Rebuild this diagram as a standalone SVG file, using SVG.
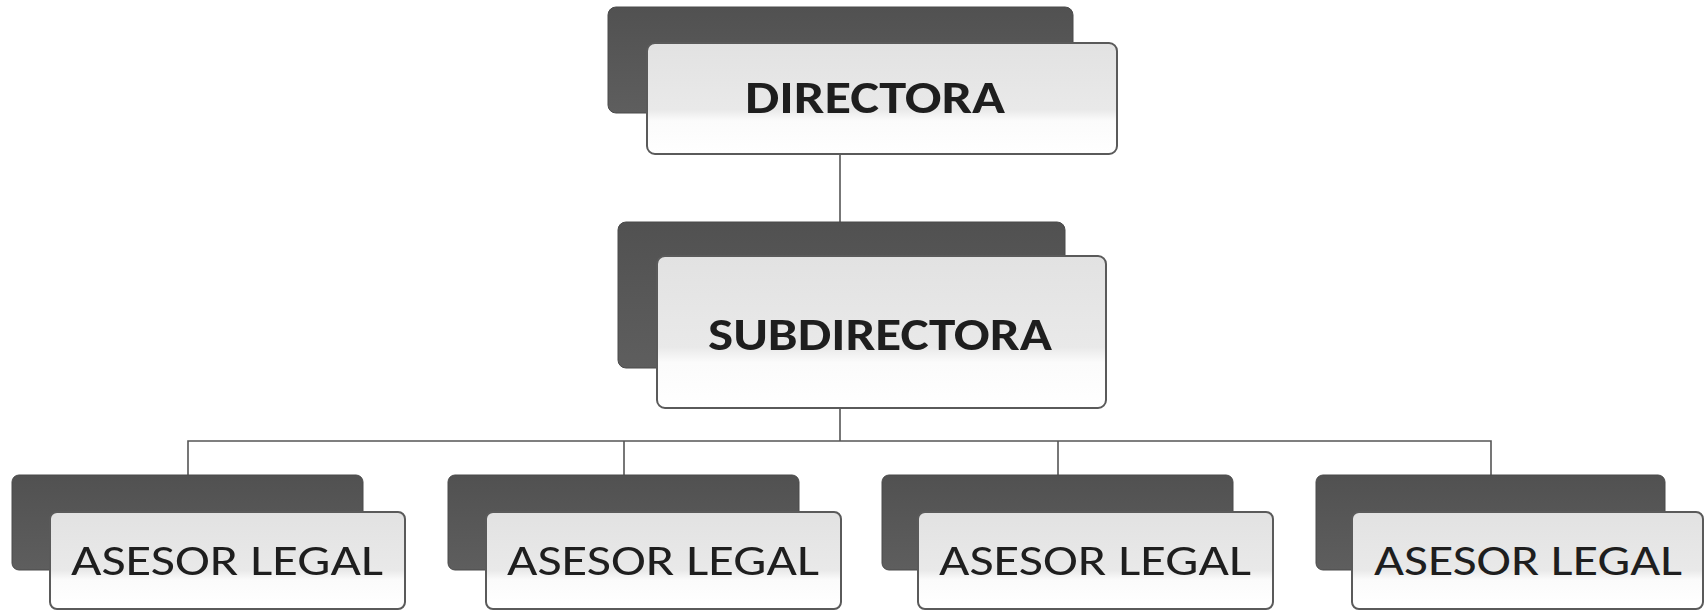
<svg xmlns="http://www.w3.org/2000/svg" width="1706" height="615" viewBox="0 0 1706 615">
<defs>
<linearGradient id="gDark" x1="0" y1="0" x2="0" y2="1">
<stop offset="0" stop-color="#515151"/>
<stop offset="1" stop-color="#5e5e5e"/>
</linearGradient>
<linearGradient id="gFront" x1="0" y1="0" x2="0" y2="1">
<stop offset="0" stop-color="#e2e2e2"/>
<stop offset="0.6" stop-color="#e9e9e9"/>
<stop offset="0.7" stop-color="#fbfbfb"/>
<stop offset="1" stop-color="#ffffff"/>
</linearGradient>
</defs>
<style>
.dark{fill:url(#gDark);stroke:#4a4a4a;stroke-width:1}
.front{fill:url(#gFront);stroke:#5a5a5a;stroke-width:2}
.conn{fill:none;stroke:#555;stroke-width:1.6}
.head{font-family:"Carlito","Lato","Open Sans",sans-serif;font-weight:bold;font-size:46px;fill:#1e1e1e;text-anchor:middle}
.leg{font-family:"Carlito","Lato","Open Sans",sans-serif;font-weight:normal;font-size:44px;fill:#1e1e1e;text-anchor:middle}
</style>
<rect width="1706" height="615" fill="#ffffff"/>
<g id="connectors">
<line class="conn" x1="840" y1="154" x2="840" y2="222"/>
<line class="conn" x1="840" y1="408" x2="840" y2="441"/>
<polyline class="conn" points="188,475 188,441 1491,441 1491,475"/>
<line class="conn" x1="624" y1="441" x2="624" y2="475"/>
<line class="conn" x1="1058" y1="441" x2="1058" y2="475"/>
</g>
<g id="node-directora">
<rect class="dark" x="608" y="7" width="465" height="106" rx="8"/>
<rect class="front" x="647" y="43" width="470" height="111" rx="8"/>
<text class="head" x="875" y="113" textLength="260" lengthAdjust="spacingAndGlyphs">DIRECTORA</text>
</g>
<g id="node-subdirectora">
<rect class="dark" x="618" y="222" width="447" height="146" rx="8"/>
<rect class="front" x="657" y="256" width="449" height="152" rx="8"/>
<text class="head" x="880" y="350" textLength="344" lengthAdjust="spacingAndGlyphs">SUBDIRECTORA</text>
</g>
<g id="node-asesor-1">
<rect class="dark" x="12" y="475" width="351" height="95" rx="7"/>
<rect class="front" x="50" y="512" width="355" height="97" rx="7"/>
<text class="leg" x="227" y="575" textLength="312" lengthAdjust="spacingAndGlyphs">ASESOR LEGAL</text>
</g>
<g id="node-asesor-2">
<rect class="dark" x="448" y="475" width="351" height="95" rx="7"/>
<rect class="front" x="486" y="512" width="355" height="97" rx="7"/>
<text class="leg" x="663" y="575" textLength="312" lengthAdjust="spacingAndGlyphs">ASESOR LEGAL</text>
</g>
<g id="node-asesor-3">
<rect class="dark" x="882" y="475" width="351" height="95" rx="7"/>
<rect class="front" x="918" y="512" width="355" height="97" rx="7"/>
<text class="leg" x="1095" y="575" textLength="312" lengthAdjust="spacingAndGlyphs">ASESOR LEGAL</text>
</g>
<g id="node-asesor-4">
<rect class="dark" x="1316" y="475" width="349" height="95" rx="7"/>
<rect class="front" x="1352" y="512" width="351" height="97" rx="7"/>
<text class="leg" x="1528" y="575" textLength="308" lengthAdjust="spacingAndGlyphs">ASESOR LEGAL</text>
</g>
</svg>
